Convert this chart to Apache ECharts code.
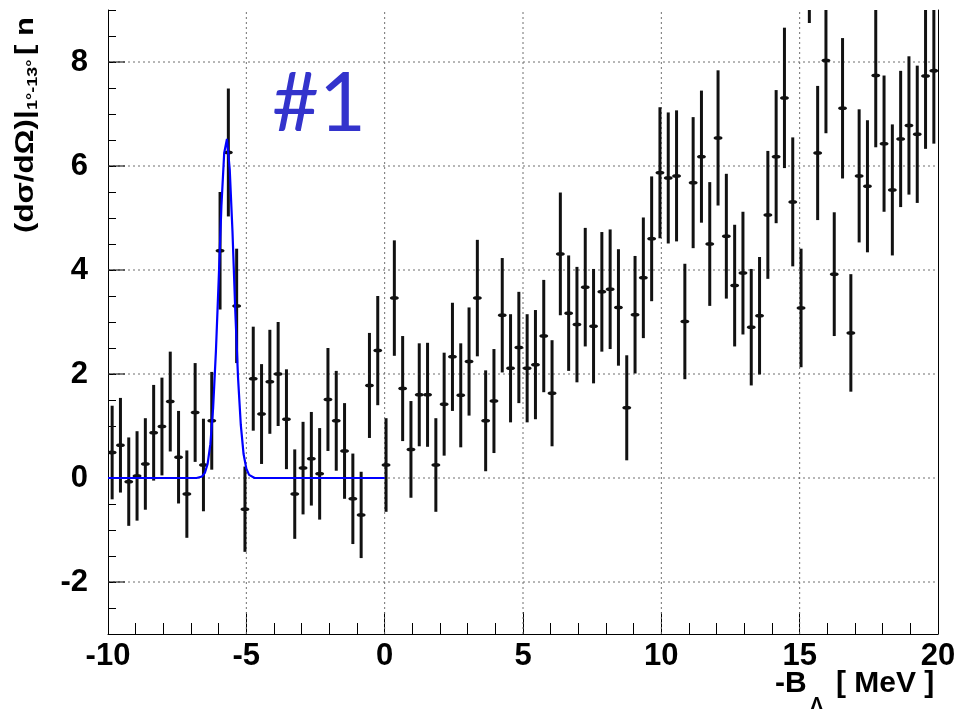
<!DOCTYPE html>
<html>
<head>
<meta charset="utf-8">
<script src="https://cdn.jsdelivr.net/npm/echarts@6/dist/echarts.min.js"></script>
<style>
  html, body { margin: 0; padding: 0; background: #fff; }
  #chart { width: 960px; height: 709px; }
</style>
</head>
<body>
<div id="chart"></div>
<script>
// Histogram bin centres (-B_Lambda, MeV), 0.3 MeV bins
const binCenters = [
  -9.85, -9.55, -9.25, -8.95, -8.65, -8.35, -8.05, -7.75, -7.45, -7.15,
  -6.85, -6.55, -6.25, -5.95, -5.65, -5.35, -5.05, -4.75, -4.45, -4.15,
  -3.85, -3.55, -3.25, -2.95, -2.65, -2.35, -2.05, -1.75, -1.45, -1.15,
  -0.85, -0.55, -0.25, 0.05, 0.35, 0.65, 0.95, 1.25, 1.55, 1.85,
  2.15, 2.45, 2.75, 3.05, 3.35, 3.65, 3.95, 4.25, 4.55, 4.85,
  5.15, 5.45, 5.75, 6.05, 6.35, 6.65, 6.95, 7.25, 7.55, 7.85,
  8.15, 8.45, 8.75, 9.05, 9.35, 9.65, 9.95, 10.25, 10.55, 10.85,
  11.15, 11.45, 11.75, 12.05, 12.35, 12.65, 12.95, 13.25, 13.55, 13.85,
  14.15, 14.45, 14.75, 15.05, 15.35, 15.65, 15.95, 16.25, 16.55, 16.85,
  17.15, 17.45, 17.75, 18.05, 18.35, 18.65, 18.95, 19.25, 19.55, 19.85
];

// Cross section per bin
const crossSection = [
  0.49, 0.63, -0.07, 0.04, 0.27, 0.87, 0.99, 1.47, 0.40, -0.31,
  1.26, 0.25, 1.10, 4.37, 6.26, 3.31, -0.60, 1.91, 1.23, 1.85,
  2.00, 1.13, -0.31, 0.19, 0.37, 0.08, 1.51, 1.10, 0.52, -0.40,
  -0.71, 1.78, 2.45, 0.25, 3.46, 1.72, 0.55, 1.60, 1.60, 0.25,
  1.42, 2.33, 1.59, 2.24, 3.46, 1.10, 1.48, 3.13, 2.11, 2.51,
  2.11, 2.18, 2.73, 1.63, 4.31, 3.17, 2.95, 3.67, 2.92, 3.58,
  3.63, 3.28, 1.35, 3.14, 3.85, 4.60, 5.87, 5.77, 5.81, 3.01,
  5.68, 6.18, 4.50, 6.54, 4.65, 3.70, 3.94, 2.90, 3.12, 5.06,
  6.18, 7.31, 5.31, 3.27, 10.2, 6.25, 8.03, 3.92, 7.11, 2.79,
  5.81, 5.61, 7.74, 6.43, 5.54, 6.52, 6.78, 6.61, 7.73, 7.83
];

// Statistical error per bin
const errors = [
  0.90, 0.91, 0.85, 0.86, 0.88, 0.92, 0.94, 0.96, 0.89, 0.84,
  0.95, 0.89, 0.94, 1.13, 1.23, 1.10, 0.82, 1.00, 0.96, 1.00,
  1.00, 0.96, 0.86, 0.89, 0.90, 0.88, 0.99, 0.96, 0.92, 0.87,
  0.83, 1.01, 1.05, 0.90, 1.11, 1.01, 0.93, 0.99, 1.00, 0.90,
  0.99, 1.04, 1.00, 1.04, 1.12, 0.97, 1.00, 1.10, 1.04, 1.07,
  1.04, 1.05, 1.08, 1.02, 1.18, 1.11, 1.11, 1.14, 1.10, 1.15,
  1.15, 1.12, 1.01, 1.13, 1.16, 1.20, 1.26, 1.26, 1.26, 1.11,
  1.26, 1.27, 1.19, 1.30, 1.20, 1.17, 1.18, 1.12, 1.13, 1.23,
  1.28, 1.35, 1.24, 1.14, 1.45, 1.29, 1.40, 1.19, 1.35, 1.13,
  1.28, 1.27, 1.38, 1.31, 1.26, 1.31, 1.33, 1.32, 1.40, 1.40
];

// Fitted peak curve (ground-state peak)
const fitX = [-10, -6.8, -6.6, -6.5, -6.4, -6.3, -6.2, -6.1, -6.0, -5.9, -5.8, -5.7,
              -5.6, -5.5, -5.4, -5.3, -5.2, -5.1, -5.0, -4.9, -4.7, 0];
const fitY = [0, 0, 0.03, 0.10, 0.27, 0.65, 1.35, 2.43, 3.80, 5.24, 6.25, 6.52,
              5.93, 4.73, 3.22, 1.93, 1.02, 0.46, 0.18, 0.06, 0, 0];

// Axis ticks and grid positions
const xTickLabels = [-10, -5, 0, 5, 10, 15, 20];
const yTickLabels = [-2, 0, 2, 4, 6, 8];
const gridX = [-5, 0, 5, 10, 15];
const gridY = [-2, 0, 2, 4, 6, 8];

const X_MIN = -10, X_MAX = 20, Y_MIN = -3, Y_MAX = 9;
const TICK_FONT = 'Liberation Sans';

const chart = echarts.init(document.getElementById('chart'), null, { renderer: 'canvas' });

const pointData = binCenters.map((x, i) => [x, crossSection[i], errors[i]]);
const fitData = fitX.map((x, i) => [x, fitY[i]]);

const dotted = { stroke: '#6f6f6f', lineWidth: 1, lineDash: [2, 3] };

const option = {
  animation: false,
  backgroundColor: '#fff',
  grid: { left: 108, right: 22, top: 10, bottom: 75, containLabel: false },
  xAxis: {
    type: 'value', min: X_MIN, max: X_MAX, interval: 5,
    axisLine: { show: true, onZero: false, lineStyle: { color: '#000', width: 1 } },
    axisTick: { show: true, inside: true, length: 22, lineStyle: { color: '#000' } },
    minorTick: { show: true, splitNumber: 5, length: 11, lineStyle: { color: '#000' } },
    splitLine: { show: false },
    axisLabel: {
      show: true, margin: 7, color: '#000',
      fontFamily: TICK_FONT, fontWeight: 'bold', fontSize: 31,
      formatter: v => (xTickLabels.indexOf(v) >= 0 ? String(v) : '')
    }
  },
  yAxis: [
    {
      type: 'value', min: Y_MIN, max: Y_MAX, interval: 1,
      axisLine: { show: true, onZero: false, lineStyle: { color: '#000', width: 1 } },
      axisTick: { show: true, inside: true, length: 8, lineStyle: { color: '#000' } },
      minorTick: { show: true, splitNumber: 2, length: 8, lineStyle: { color: '#000' } },
      splitLine: { show: false },
      axisLabel: {
        show: true, margin: 20, color: '#000',
        fontFamily: TICK_FONT, fontWeight: 'bold', fontSize: 31,
        formatter: v => (yTickLabels.indexOf(v) >= 0 ? String(v) : '')
      }
    },
    {
      type: 'value', min: Y_MIN, max: Y_MAX, position: 'right',
      axisLine: { show: true, onZero: false, lineStyle: { color: '#000', width: 1 } },
      axisTick: { show: false }, axisLabel: { show: false }, splitLine: { show: false }
    }
  ],
  series: [
    {
      // vertical dotted grid lines
      type: 'custom', name: 'gridX', z: 1, silent: true,
      data: gridX.map(x => [x, Y_MIN]),
      encode: { x: 0, y: 1 },
      renderItem: (params, api) => {
        const x = api.value(0);
        const a = api.coord([x, Y_MIN]);
        const b = api.coord([x, Y_MAX]);
        return { type: 'line', shape: { x1: a[0], y1: a[1], x2: b[0], y2: b[1] }, style: dotted };
      }
    },
    {
      // horizontal dotted grid lines with long major ticks on the left axis
      type: 'custom', name: 'gridY', z: 1, silent: true,
      data: gridY.map(y => [X_MIN, y]),
      encode: { x: 0, y: 1 },
      renderItem: (params, api) => {
        const y = api.value(1);
        const a = api.coord([X_MIN, y]);
        const b = api.coord([X_MAX, y]);
        return {
          type: 'group',
          children: [
            { type: 'line', shape: { x1: a[0], y1: a[1], x2: b[0], y2: b[1] }, style: dotted },
            { type: 'line', shape: { x1: a[0], y1: a[1], x2: a[0] + 17, y2: a[1] },
              style: { stroke: '#000', lineWidth: 1 } }
          ]
        };
      }
    },
    {
      // data points with vertical error bars
      type: 'custom', name: 'points', z: 3, clip: true,
      data: pointData,
      encode: { x: 0, y: 1 },
      renderItem: (params, api) => {
        const x = api.value(0), y = api.value(1), e = api.value(2);
        const top = api.coord([x, y + e]);
        const bot = api.coord([x, y - e]);
        const c = api.coord([x, y]);
        return {
          type: 'group',
          children: [
            { type: 'line', shape: { x1: top[0], y1: top[1], x2: bot[0], y2: bot[1] },
              style: { stroke: '#111', lineWidth: 3 } },
            { type: 'ellipse', shape: { cx: c[0], cy: c[1], rx: 4.5, ry: 2 },
              style: { fill: '#111' } }
          ]
        };
      }
    },
    {
      type: 'line', name: 'fit', z: 5,
      data: fitData, showSymbol: false, symbol: 'none', smooth: false,
      lineStyle: { color: '#0000ff', width: 2.2 }, itemStyle: { color: '#0000ff' }
    }
  ],
  graphic: [
    // y-axis title
    { type: 'text', x: 26, y: 233, rotation: Math.PI / 2, scaleX: 1.2,
      style: { text: '(dσ/dΩ)|', font: 'bold 26px "Liberation Sans"', fill: '#000', align: 'left', verticalAlign: 'middle' } },
    { type: 'text', x: 33, y: 110, rotation: Math.PI / 2, scaleX: 1.2,
      style: { text: '1°-13°', font: 'bold 15px "Liberation Sans"', fill: '#000', align: 'left', verticalAlign: 'middle' } },
    { type: 'text', x: 26, y: 55, rotation: Math.PI / 2, scaleX: 1.2,
      style: { text: '[ n', font: 'bold 26px "Liberation Sans"', fill: '#000', align: 'left', verticalAlign: 'middle' } },
    // x-axis title
    { type: 'text', x: 775, y: 684,
      style: { text: '-B', font: 'bold 30px "Liberation Sans"', fill: '#000', align: 'left', verticalAlign: 'middle' } },
    { type: 'text', x: 810, y: 705,
      style: { text: 'Λ', font: 'bold 20px "Liberation Sans"', fill: '#000', align: 'left', verticalAlign: 'middle' } },
    { type: 'text', x: 836, y: 684,
      style: { text: '[ MeV ]', font: 'bold 30px "Liberation Sans"', fill: '#000', align: 'left', verticalAlign: 'middle' } },
    // peak tag
    { type: 'text', x: 272, y: 105,
      style: { text: '#1', font: 'normal 81px Lato', fill: '#3333cc', align: 'left', verticalAlign: 'middle' } }
  ]
};

chart.setOption(option);
</script>
</body>
</html>
